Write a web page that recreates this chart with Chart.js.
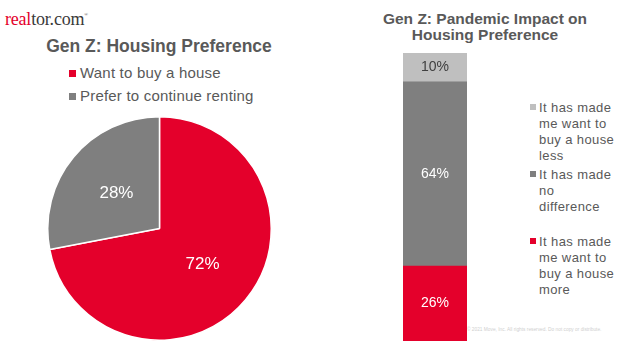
<!DOCTYPE html>
<html>
<head>
<meta charset="utf-8">
<script src="https://cdn.jsdelivr.net/npm/chart.js@4/dist/chart.umd.min.js"></script>
<style>
  body { margin: 0; width: 624px; height: 352px; background: #fff; position: relative; overflow: hidden;
         font-family: "Liberation Sans", Arial, sans-serif; color: #595959; }
  .abs { position: absolute; }
  #logo { left: 5px; top: 4px; font-family: "Liberation Serif", "Times New Roman", serif; font-size: 18px;
          line-height: 22px; color: #3a3a3a; letter-spacing: -0.2px; }
  #logo .red { color: #e4002b; }
  #logo sup { font-size: 5px; vertical-align: 9px; }
  #pieTitle { left: 0; width: 318px; top: 37px; text-align: center; font-weight: bold; font-size: 17.5px; line-height: 18px; }
  #barTitle { left: 364px; width: 242px; top: 11px; text-align: center; font-weight: bold; font-size: 15.5px;
              line-height: 16px; white-space: nowrap; }
  .legend-item { position: absolute; font-size: 15px; line-height: 15px; letter-spacing: 0.2px; white-space: nowrap; }
  .legend-item i { position: absolute; left: -11px; top: 5px; width: 7px; height: 7px; }
  .legend-item2 { position: absolute; font-size: 13px; line-height: 16px; letter-spacing: 0.4px; width: 80px; }
  .legend-item2 i { position: absolute; left: -9px; top: 4px; width: 6px; height: 6px; }
  #footer { left: 467px; top: 327px; font-size: 4.8px; color: #cfcfcf; white-space: nowrap; }
</style>
</head>
<body>
<div id="logo" class="abs"><span class="red">real</span>tor.com<sup>®</sup></div>
<div id="pieTitle" class="abs">Gen Z: Housing Preference</div>
<div id="barTitle" class="abs">Gen Z: Pandemic Impact on<br>Housing Preference</div>
<div id="pieLegend"></div>
<div id="barLegend"></div>
<canvas id="pieChart" class="abs" width="225" height="225" style="left:47px;top:116px"></canvas>
<canvas id="barChart" class="abs" width="64" height="288" style="left:403px;top:53px"></canvas>
<div id="footer" class="abs">© 2021 Move, Inc. All rights reserved. Do not copy or distribute.</div>
<script>
// Data
const pieLabels = ["Want to buy a house", "Prefer to continue renting"];
const pieValues = [72, 28];
const pieColors = ["#e4002b", "#7f7f7f"];

// stacked bottom to top
const impactLabels = [
  "It has made me want to buy a house more",
  "It has made no difference",
  "It has made me want to buy a house less",
];
const impactValues = [26, 64, 10];
const impactColors = ["#e4002b", "#7f7f7f", "#bfbfbf"];
const impactLabelColors = ["#ffffff", "#ffffff", "#404040"];

// Legend placement (top of each item)
const pieLegendTops = [65, 88];
const barLegendTops = [233.5, 166.5, 99.5];

// Legends
const pieLegend = document.getElementById("pieLegend");
pieLabels.forEach((label, i) => {
  const item = document.createElement("div");
  item.className = "legend-item";
  item.style.left = "80px";
  item.style.top = pieLegendTops[i] + "px";
  item.innerHTML = '<i style="background:' + pieColors[i] + '"></i>' + label;
  pieLegend.appendChild(item);
});

const barLegend = document.getElementById("barLegend");
impactLabels.forEach((label, i) => {
  const item = document.createElement("div");
  item.className = "legend-item2";
  item.style.left = "539px";
  item.style.top = barLegendTops[i] + "px";
  item.innerHTML = '<i style="background:' + impactColors[i] + '"></i>' + label;
  barLegend.appendChild(item);
});

// Draws value labels in the middle of each element
const valueLabels = {
  id: "valueLabels",
  afterDatasetsDraw(chart, args, opts) {
    const ctx = chart.ctx;
    ctx.save();
    ctx.textAlign = "center";
    ctx.textBaseline = "middle";
    ctx.font = opts.size + 'px "Liberation Sans", Arial, sans-serif';
    chart.data.datasets.forEach((ds, i) => {
      chart.getDatasetMeta(i).data.forEach((el, j) => {
        const { x, y } = el.getCenterPoint();
        ctx.fillStyle = opts.colors ? opts.colors[i] : "#fff";
        ctx.fillText(ds.data[j] + "%", x, y);
      });
    });
    ctx.restore();
  },
};

new Chart(document.getElementById("pieChart"), {
  type: "pie",
  data: {
    labels: pieLabels,
    datasets: [{ data: pieValues, backgroundColor: pieColors, borderColor: "#fff", borderWidth: 1.5 }],
  },
  options: {
    responsive: false,
    animation: false,
    layout: { padding: 0 },
    plugins: { legend: { display: false }, tooltip: { enabled: false }, valueLabels: { size: 17 } },
  },
  plugins: [valueLabels],
});

new Chart(document.getElementById("barChart"), {
  type: "bar",
  data: {
    labels: [""],
    datasets: impactLabels.map((label, i) => ({
      label,
      data: [impactValues[i]],
      backgroundColor: impactColors[i],
      borderWidth: 0,
      barPercentage: 1,
      categoryPercentage: 1,
    })),
  },
  options: {
    responsive: false,
    animation: false,
    layout: { padding: 0 },
    scales: {
      x: { stacked: true, display: false },
      y: { stacked: true, display: false, min: 0, max: 100 },
    },
    plugins: {
      legend: { display: false },
      tooltip: { enabled: false },
      valueLabels: { size: 14, colors: impactLabelColors },
    },
  },
  plugins: [valueLabels],
});
</script>
</body>
</html>
